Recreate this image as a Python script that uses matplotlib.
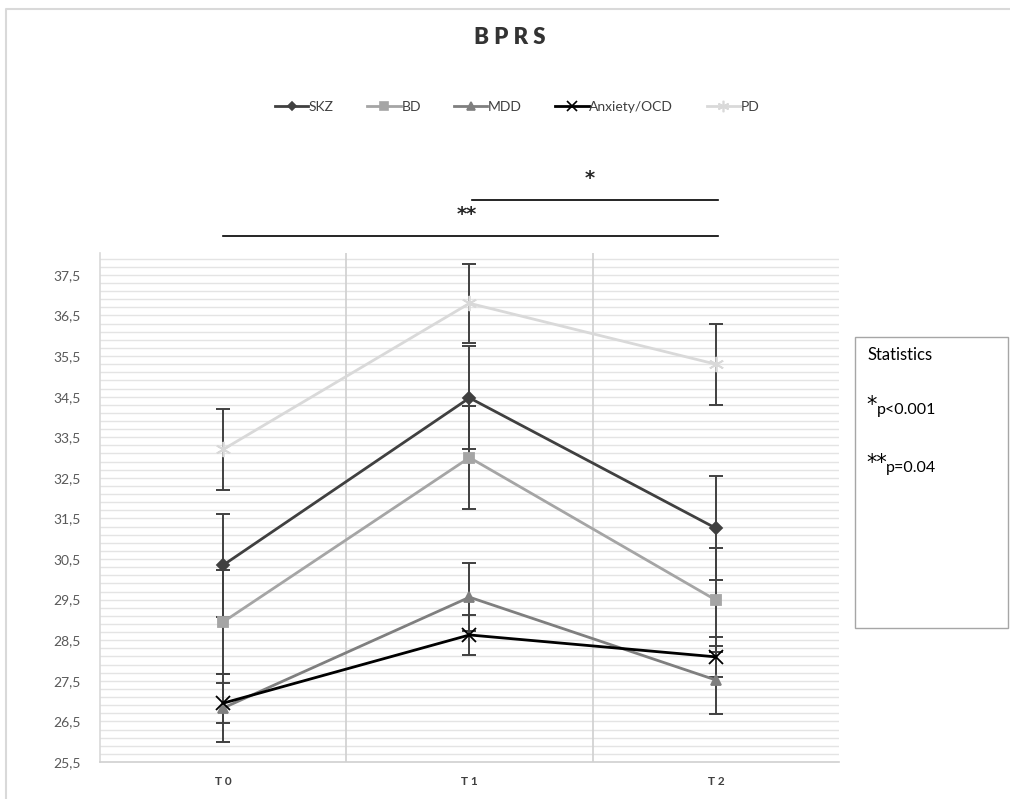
import numpy as np
import matplotlib.pyplot as plt
import matplotlib.transforms as mtransforms
from matplotlib.patches import Rectangle
from matplotlib.lines import Line2D

plt.rcParams['font.family'] = ['Lato', 'DejaVu Sans']

# donnees
temps = ['T0', 'T1', 'T2']
groupes = ['SKZ', 'BD', 'MDD', 'Anxiety/OCD', 'PD']
skz = [30.35, 34.47, 31.26]
bd = [28.95, 33.0, 29.49]
mdd = [26.83, 29.56, 27.52]
anx = [26.95, 28.63, 28.09]
pd_ = [33.2, 36.8, 35.3]
err_skz = [1.27, 1.27, 1.28]
err_bd = [1.28, 1.27, 1.28]
err_mdd = [0.84, 0.84, 0.84]
err_anx = [0.5, 0.5, 0.5]
err_pd = [1.0, 0.97, 1.0]

valeurs = [skz, bd, mdd, anx, pd_]
erreurs = [err_skz, err_bd, err_mdd, err_anx, err_pd]
couleurs = ['#404040', '#a5a5a5', '#7f7f7f', '#000000', '#d9d9d9']
marqueurs = ['D', 's', '^', 'x', (6, 2, 0)]
tailles = [6, 7, 7, 10, 11]

fig = plt.figure(figsize=(10.1, 7.99), dpi=100)
ax = fig.add_axes([0.099, 0.0463, 0.7317, 0.6371])

x = np.arange(len(temps))

# barres d'erreur d'abord
for v, e in zip(valeurs, erreurs):
    ax.errorbar(x, v, yerr=e, fmt='none', ecolor='#404040', elinewidth=1.4,
                capsize=5, capthick=1.4, zorder=3)

handles = []
for v, c, m, s, nom in zip(valeurs, couleurs, marqueurs, tailles, groupes):
    ax.plot(x, v, color=c, lw=2, marker=m, markersize=s,
            markeredgewidth=1.3, markerfacecolor=c, markeredgecolor=c, zorder=4)
    handles.append(Line2D([], [], color=c, lw=2, marker=m, markersize=s * 0.75,
                          markeredgewidth=1.2, markerfacecolor=c, markeredgecolor=c, label=nom))

ax.set_xlim(-0.5, 2.5)
ax.set_ylim(25.5, 38.04)
ax.set_xticks(x)
ax.set_xticklabels(['T 0', 'T 1', 'T 2'], fontsize=8.5, color='#404040', fontweight='bold')
ax.set_yticks(np.arange(25.5, 38.0, 1.0))
ax.set_yticklabels([f"{t:.1f}".replace('.', ',') for t in np.arange(25.5, 38.0, 1.0)],
                   fontsize=10, color='#595959')
ax.tick_params(length=0, pad=14)
ax.tick_params(axis='x', pad=10)

# grille horizontale fine
for yy in np.arange(25.7, 38.0, 0.2):
    ax.axhline(yy, color='#e4e4e4', lw=1, zorder=0)
for xx in [0.5, 1.5]:
    ax.axvline(xx, color='#d0d0d0', lw=1.2, zorder=1)

for cote in ['top', 'right']:
    ax.spines[cote].set_visible(False)
ax.spines['left'].set_color('#d9d9d9')
ax.spines['bottom'].set_color('#d0d0d0')
ax.spines['left'].set_linewidth(1.2)
ax.spines['bottom'].set_linewidth(1.2)

# titre et legende
fig.text(0.505, 0.953, 'B P R S', ha='center', va='center', fontsize=16,
         fontweight='heavy', color='#333333')
fig.legend(handles=handles, loc='center', bbox_to_anchor=(0.512, 0.866), ncol=5,
           frameon=False, fontsize=10, handlelength=2.4, columnspacing=2.4,
           handletextpad=0.05, labelcolor='#404040')

# lignes de significativite
tr = mtransforms.blended_transform_factory(ax.transData, fig.transFigure)
ax.plot([1.01, 2.01], [0.7497, 0.7497], color='black', lw=1.2, transform=tr, clip_on=False)
ax.plot([0.0, 2.01], [0.7046, 0.7046], color='black', lw=1.2, transform=tr, clip_on=False)
ax.text(1.49, 0.777, '*', transform=tr, ha='center', va='center', fontsize=14,
        color='#262626', family='DejaVu Sans', fontweight='bold')
ax.text(0.99, 0.732, '**', transform=tr, ha='center', va='center', fontsize=14,
        color='#262626', family='DejaVu Sans', fontweight='bold')

# boite statistiques
fig.patches.append(Rectangle((0.8465, 0.214), 0.152, 0.364, transform=fig.transFigure,
                             facecolor='white', edgecolor='#a6a6a6', lw=1))
fig.text(0.859, 0.556, 'Statistics', fontsize=12, va='center', color='black')
fig.text(0.858, 0.493, '*', fontsize=15, va='center', color='black', family='DejaVu Sans')
fig.text(0.868, 0.487, 'p<0.001', fontsize=11.5, va='center', color='black')
fig.text(0.858, 0.420, '**', fontsize=15, va='center', color='black', family='DejaVu Sans')
fig.text(0.877, 0.414, 'p=0.04', fontsize=11.5, va='center', color='black')

# cadre du graphique
fig.lines.append(Line2D([0.006, 0.006, 1.0], [0.0, 0.989, 0.989], transform=fig.transFigure,
                        color='#d9d9d9', lw=1.5))

fig.savefig('out.png', dpi=100)
